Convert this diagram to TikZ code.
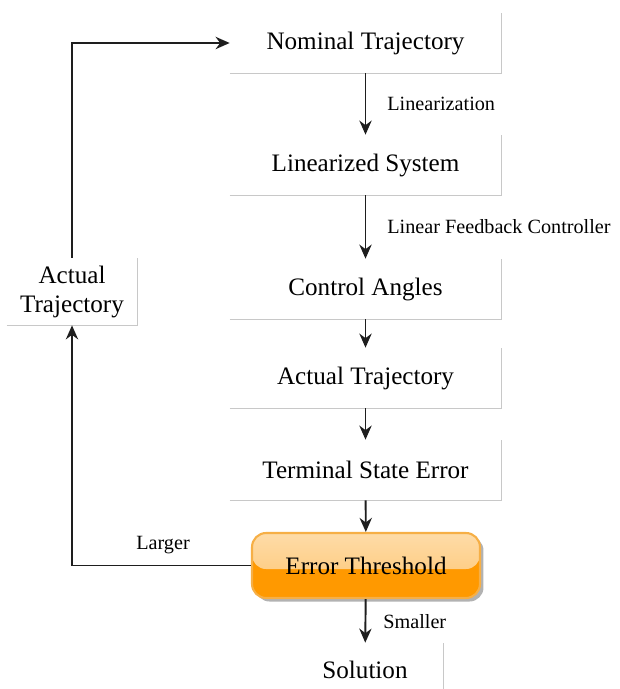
\documentclass[tikz,border=0pt]{standalone}
\usepackage{fontspec}
\setmainfont{Liberation Serif}
\newfontfamily\timesfont{Liberation Serif}
\usetikzlibrary{arrows.meta,calc,shadows}
\definecolor{EdgeClr}{RGB}{200,200,200}
\definecolor{LineClr}{RGB}{30,30,30}
\definecolor{GlowClr}{RGB}{254,196,110}
\definecolor{OrangeClr}{RGB}{255,153,0}
\definecolor{RimClr}{RGB}{246,175,70}

\begin{document}
\begin{tikzpicture}[x=0.02cm,y=-0.02cm,
  stagebox/.style={minimum width=5.42cm,minimum height=1.2cm,inner sep=0pt,
    font=\timesfont\fontsize{14.3}{16.5}\selectfont},
  note/.style={font=\timesfont\fontsize{11.5}{13}\selectfont,inner sep=0pt},
  flow/.style={draw=LineClr,line width=1.1pt,-{Stealth[length=8pt,width=7pt]}}]

\useasboundingbox (0,0) rectangle (619,689);

% main chain
\node[stagebox] (nom) at (365.5,43) {Nominal Trajectory};
\node[stagebox] (lin) at (365.5,165) {Linearized System};
\node[stagebox] (ctl) at (365.5,289) {Control Angles};
\node[stagebox] (act) at (365.5,378) {Actual Trajectory};
\node[stagebox] (ter) at (365.5,470) {Terminal State Error};
\node[stagebox,minimum width=4.56cm,minimum height=1.3cm,rounded corners=8pt,
  fill=OrangeClr,draw=RimClr,line width=1.2pt,
  drop shadow={shadow xshift=2pt,shadow yshift=-2pt,opacity=0.3,fill=black},
  path picture={\shade[top color=GlowClr!60!white,bottom color=GlowClr]
    (path picture bounding box.north west) rectangle ([yshift=-2pt]path picture bounding box.east);}]
  (thr) at (366,565.5) {Error Threshold};
\node[stagebox,minimum width=3.12cm,minimum height=1.08cm] (sol) at (365,670) {Solution};

% feedback box
\node[stagebox,minimum width=2.6cm,minimum height=1.34cm,align=center]
  (back) at (72,291.5) {Actual\\Trajectory};

% grey rims on the plain boxes
\foreach \n in {nom,lin,ctl,act,ter,back,sol}
  \draw[EdgeClr,line width=0.8pt] (\n.south west) -- (\n.south east) -- (\n.north east);

\draw[flow] (nom) -- (lin);
\draw[flow] (lin) -- (ctl);
\draw[flow] (ctl) -- (act);
\draw[flow] (act) -- (ter);
\draw[flow] (ter) -- (thr);
\draw[flow] (thr) -- (sol);
\draw[flow] (thr.west) -| (back.south);
\draw[flow] (back.north) |- (nom.west);

\node[note,anchor=west] (linLbl) at (387,104) {Linearization};
\node[note,anchor=west] (ctlLbl) at (387,227) {Linear Feedback Controller};
\node[note,anchor=west] (smLbl) at (383,622) {Smaller};
\node[note] (lgLbl) at (163,545) {Larger};

\end{tikzpicture}
\end{document}
